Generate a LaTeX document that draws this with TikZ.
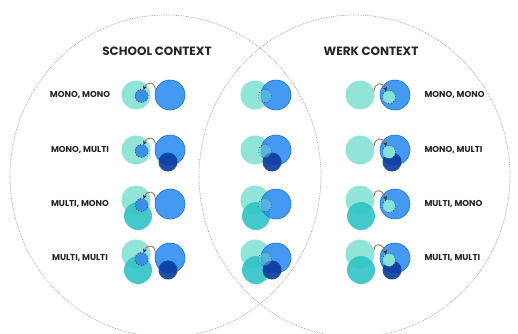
\documentclass[tikz,border=0pt]{standalone}
\usepackage{fontspec}
\setmainfont{Poppins}
\usetikzlibrary{arrows.meta}
\definecolor{tealL}{HTML}{84E3D4}
\definecolor{tealD}{HTML}{2FC3C6}
\definecolor{blueB}{HTML}{2B8CF2}
\definecolor{blueE}{HTML}{1E72D6}
\definecolor{navy}{HTML}{0B3A9E}
\definecolor{blueS}{HTML}{3C8FE6}
\definecolor{arrowc}{HTML}{A8705A}
\definecolor{venn}{HTML}{9A9A9A}
\begin{document}
\begin{tikzpicture}[x=1pt,y=-1pt,
  dot/.style={circle,inner sep=0pt,outer sep=0pt},
  tl/.style={dot,fill=tealL,fill opacity=0.9,minimum size=29pt},
  td/.style={dot,fill=tealD,fill opacity=0.9,minimum size=28pt},
  bb/.style={dot,fill=blueB,fill opacity=0.88,draw=blueE,line width=0.6pt,minimum size=30pt},
  nv/.style={dot,fill=navy,fill opacity=0.9,minimum size=19pt},
  sb/.style={dot,fill=blueS,draw=black!85,dotted,line width=0.7pt,minimum size=13pt},
  st/.style={dot,fill=tealL,draw=black!85,dotted,line width=0.7pt,minimum size=13pt},
  sm/.style={dot,fill=tealL,fill opacity=0.4,draw=black!70,dotted,line width=0.7pt,minimum size=13pt},
  arr/.style={draw=arrowc,line width=0.9pt,-{Stealth[length=4pt,width=4pt,color=black!80]}},
  title/.style={font=\bfseries\fontsize{12}{14}\selectfont,text=black!85},
  lab/.style={font=\bfseries\fontsize{8.6}{10}\selectfont,text=black!85},
  vennc/.style={draw=venn,densely dotted,line width=0.7pt}]
\useasboundingbox (0,0) rectangle (518,333);
\fill[white] (0,0) rectangle (518,333);
% Venn outlines
\draw[vennc] (165.5,176) ellipse [x radius=155.5, y radius=161];
\draw[vennc] (354.5,176) ellipse [x radius=155.5, y radius=161];
% titles
\node[title] (tschool) at (157,51) {SCHOOL CONTEXT};
\node[title] (twerk) at (371,51) {WERK CONTEXT};
% rows
\foreach \i/\Y/\ma/\mb/\lab in {1/95/0/0/{MONO, MONO},2/150/0/1/{MONO, MULTI},3/204/1/0/{MULTI, MONO},4/258/1/1/{MULTI, MULTI}}{
  \pgfmathsetmacro\ty{\Y-4*\ma}
  % left column (school)
  \node[tl] (Lt\i) at (136,\ty) {};
  \ifnum\ma=1 \node[td] (Ld\i) at (138,\Y+12) {}; \fi
  \node[bb] (Lb\i) at (170,\Y) {};
  \ifnum\mb=1 \node[nv] (Ln\i) at (168,\Y+12) {}; \fi
  \node[sb] (Ls\i) at (141.5,\Y+1) {};
  \draw[arr] (Lb\i.165) .. controls +(0,-10) and +(3,-9) .. (Ls\i.70);
  \node[lab] (Ll\i) at (80,\Y) {\lab};
  % middle column (overlap)
  \node[tl] (Mt\i) at (255,\ty) {};
  \ifnum\ma=1 \node[td] (Md\i) at (256,\Y+12) {}; \fi
  \node[bb] (Mb\i) at (276,\Y) {};
  \ifnum\mb=1 \node[nv] (Mn\i) at (272,\Y+12) {}; \fi
  \node[sm] (Ms\i) at (265,\Y+1) {};
  % right column (werk)
  \node[tl] (Rt\i) at (360,\ty) {};
  \ifnum\ma=1 \node[td] (Rd\i) at (361,\Y+12) {}; \fi
  \node[bb] (Rb\i) at (395,\Y) {};
  \ifnum\mb=1 \node[nv] (Rn\i) at (392,\Y+12) {}; \fi
  \node[st] (Rs\i) at (389,\Y+2) {};
  \draw[arr] (Rt\i.15) .. controls +(1,-10) and +(-3,-9) .. (Rs\i.115);
  \node[lab,anchor=west] (Rl\i) at (421,\Y) {\lab};
}
\end{tikzpicture}
\end{document}
